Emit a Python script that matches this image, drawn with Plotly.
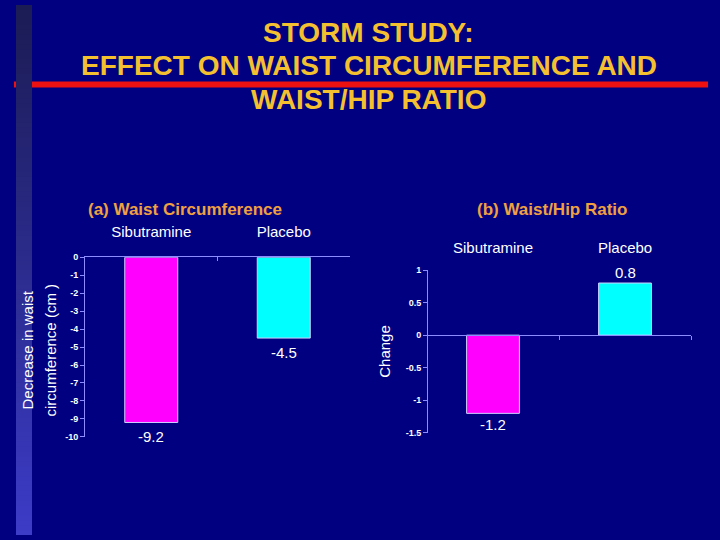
import plotly.graph_objects as go

# ---- data ----
categories = ["Sibutramine", "Placebo"]
waist_change = [-9.2, -4.5]
whr_change = [-1.2, 0.8]
bar_colors = ["#ff00ff", "#00ffff"]

waist_ticks = [0, -1, -2, -3, -4, -5, -6, -7, -8, -9, -10]
whr_ticks = [1, 0.5, 0, -0.5, -1, -1.5]

title_lines = ["STORM STUDY:", "EFFECT ON WAIST CIRCUMFERENCE AND", "WAIST/HIP RATIO"]
sub_a = "(a) Waist Circumference"
sub_b = "(b) Waist/Hip Ratio"
ytitle_a = ["Decrease in waist", "circumference (cm )"]
ytitle_b = "Change"

BG = "#000080"
AXC = "#8c8cff"
FONT = "Liberation Sans, Arial, sans-serif"

W, H = 720, 540
xa_dom = [85 / W, 350 / W]
ya_dom = [1 - 440 / H, 1 - 257 / H]
xb_dom = [427 / W, 691 / W]
yb_dom = [1 - 436 / H, 1 - 270 / H]
yb_range = [-1.5, 1.0]
zero_pos_b = yb_dom[0] + (0 - yb_range[0]) / (yb_range[1] - yb_range[0]) * (yb_dom[1] - yb_dom[0])


def fmt(v):
    return ("%g" % v)


fig = go.Figure()

fig.add_trace(go.Bar(
    x=categories, y=waist_change, xaxis="x", yaxis="y",
    marker=dict(color=bar_colors, line=dict(color="#d0d0ff", width=1)),
    width=0.4, showlegend=False, hoverinfo="x+y",
))
fig.add_trace(go.Bar(
    x=categories, y=whr_change, xaxis="x2", yaxis="y2",
    marker=dict(color=bar_colors, line=dict(color="#d0d0ff", width=1)),
    width=0.4, showlegend=False, hoverinfo="x+y",
))

tickfont_small = dict(color="white", size=9, family=FONT, weight="bold")

fig.update_layout(
    width=W, height=H, margin=dict(l=0, r=0, t=0, b=0),
    paper_bgcolor=BG, plot_bgcolor=BG,
    font=dict(family=FONT, color="white"),
    xaxis=dict(domain=xa_dom, anchor="y", type="category", side="top",
               showline=True, linecolor=AXC, linewidth=1,
               tickson="boundaries", ticks="inside", ticklen=4, tickcolor=AXC,
               tickfont=dict(color="white", size=15, family=FONT),
               ticklabelstandoff=13, showgrid=False, range=[-0.5, 1.5]),
    yaxis=dict(domain=ya_dom, anchor="x", range=[-10, 0],
               tickvals=waist_ticks, ticktext=[fmt(v) for v in waist_ticks],
               showline=True, linecolor=AXC, linewidth=1,
               ticks="outside", ticklen=4, tickcolor=AXC,
               tickfont=tickfont_small, showgrid=False, zeroline=False),
    xaxis2=dict(domain=xb_dom, anchor="free", position=zero_pos_b, type="category",
                showline=True, linecolor=AXC, linewidth=1,
                tickson="boundaries", ticks="outside", ticklen=4, tickcolor=AXC,
                showticklabels=False, showgrid=False, range=[-0.5, 1.5]),
    yaxis2=dict(domain=yb_dom, anchor="free", range=yb_range,
                tickvals=whr_ticks, ticktext=[fmt(v) for v in whr_ticks],
                showline=True, linecolor=AXC, linewidth=1, position=xb_dom[0],
                ticks="outside", ticklen=4, tickcolor=AXC,
                tickfont=tickfont_small, showgrid=False, zeroline=False,
                title=dict(text=ytitle_b, font=dict(size=15, color="white", family=FONT), standoff=10)),
)

annotations = []
# value labels
for xr, yr, vals, off in [("x", "y", waist_change, 14), ("x2", "y2", whr_change, 11)]:
    for c, v in zip(categories, vals):
        annotations.append(dict(text=fmt(v), x=c, y=v, xref=xr, yref=yr,
                                xanchor="center", yanchor="middle",
                                yshift=(off if v > 0 else -off), showarrow=False,
                                font=dict(size=15, color="white", family=FONT)))
for c in categories:
    annotations.append(dict(text=c, x=c, xref="x2", y=1, yref="y2 domain",
                            yanchor="bottom", yshift=12, showarrow=False,
                            font=dict(size=15, color="white", family=FONT)))
# y title chart a (two lines)
for line, xp in zip(ytitle_a, [27, 50]):
    annotations.append(dict(text=line, x=xp / W, y=1 - 352 / H, xref="paper", yref="paper",
                            xanchor="center", yanchor="middle", textangle=-90, showarrow=False,
                            font=dict(size=15, color="white", family=FONT)))
annotations.append(dict(text="<b>" + sub_a + "</b>", x=185 / W, y=1 - 208 / H, xref="paper", yref="paper",
                        xanchor="center", yanchor="middle",
                        showarrow=False, font=dict(size=17, color="#f0a040", family=FONT)))
annotations.append(dict(text="<b>" + sub_b + "</b>", x=552 / W, y=1 - 208 / H, xref="paper", yref="paper",
                        xanchor="center", yanchor="middle",
                        showarrow=False, font=dict(size=17, color="#f0a040", family=FONT)))
for i, line in enumerate(title_lines):
    annotations.append(dict(text="<b>" + line + "</b>", x=369 / W, y=1 - (28 + 34 * i) / H,
                            xref="paper", yref="paper", xanchor="center", yanchor="middle",
                            showarrow=False,
                            font=dict(size=28, color="#f5c030", family=FONT)))
fig.update_layout(annotations=annotations)

# decorative left stripe (gradient, overlapping bands) and red rule
shapes = []
n = 108
c0 = (0x1c, 0x1c, 0x55)
c1 = (0x3c, 0x3c, 0xc8)
for i in range(n):
    t = i / (n - 1)
    col = "rgb(%d,%d,%d)" % tuple(int(a + (b - a) * t) for a, b in zip(c0, c1))
    shapes.append(dict(type="rect", xref="paper", yref="paper", layer="below",
                       x0=16 / W, x1=32 / W, y0=0, y1=1 - i / n,
                       fillcolor=col, line=dict(width=0)))
shapes.append(dict(type="rect", xref="paper", yref="paper", x0=32 / W, x1=708 / W,
                   y0=1 - 84 / H, y1=1 - 78 / H, fillcolor="#ee1111", line=dict(width=0)))
shapes.append(dict(type="rect", xref="paper", yref="paper", x0=14 / W, x1=16 / W,
                   y0=1 - 84 / H, y1=1 - 78 / H, fillcolor="#ee1111", line=dict(width=0)))
fig.update_layout(shapes=shapes)

fig.write_html("out.html")
